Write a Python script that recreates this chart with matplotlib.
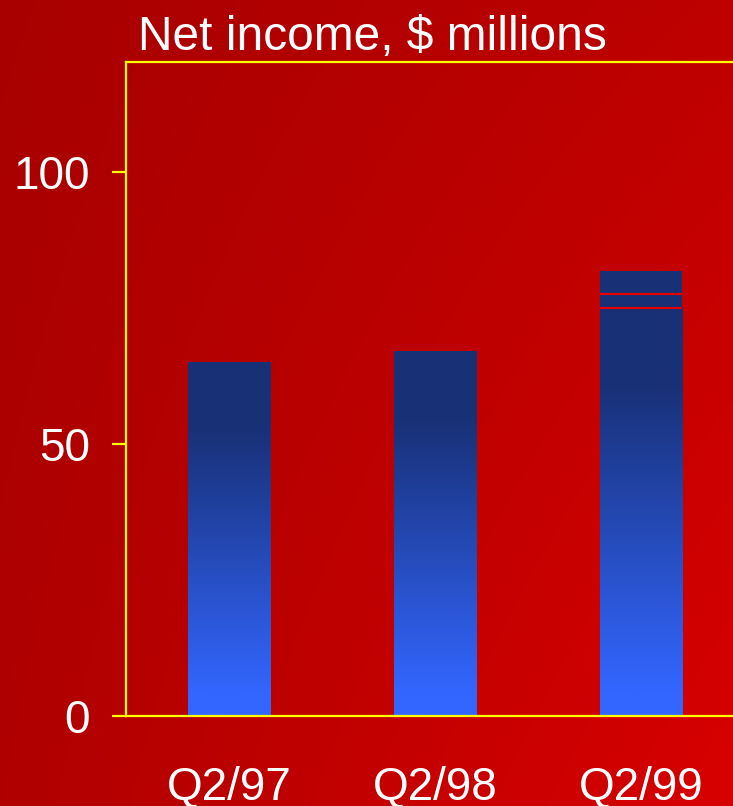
import numpy as np
import matplotlib
matplotlib.use("Agg")
import matplotlib.pyplot as plt
from matplotlib.colors import LinearSegmentedColormap

# Data
categories = ["Q2/97", "Q2/98", "Q2/99"]
# stacked segments (bottom, middle, top); only Q2/99 has extra segments
seg_bottom = [65.0, 67.0, 75.0]
seg_middle = [0.0, 0.0, 2.6]
seg_top = [0.0, 0.0, 4.2]
yticks = [0, 50, 100]
title = "Net income, $ millions"

W, H, DPI = 7.33, 8.06, 100
fig = plt.figure(figsize=(W, H), dpi=DPI)
plt.rcParams['font.family'] = ['Liberation Sans', 'DejaVu Sans']

# background gradient
bg = fig.add_axes([0, 0, 1, 1], zorder=-10)
bg.set_axis_off()
nx, ny = 200, 220
xx, yy = np.meshgrid(np.linspace(0, 1, nx), np.linspace(0, 1, ny))  # yy: 0 top, 1 bottom
TL, TR, BL, BR = 168, 190, 176, 216
val = (TL * (1 - xx) * (1 - yy) + TR * xx * (1 - yy) + BL * (1 - xx) * yy + BR * xx * yy) / 255.0
img = np.zeros((ny, nx, 3))
img[..., 0] = val
bg.imshow(img, aspect='auto', extent=[0, 1, 1, 0], interpolation='bilinear')
bg.set_xlim(0, 1)
bg.set_ylim(1, 0)

ax = fig.add_axes([126 / 733, 1 - 716 / 806, 1 - 126 / 733, (716 - 62) / 806])
ax.patch.set_alpha(0)
x = np.arange(len(categories))
width = 0.4
ax.set_ylim(0, 120.2)

dark = np.array([0x18, 0x30, 0x75]) / 255
light = np.array([0x33, 0x66, 0xff]) / 255
cmap = LinearSegmentedColormap.from_list("barg", [(0, light), (0.06, light), (0.82, dark), (1.0, dark)])
grad = np.linspace(0, 1, 256).reshape(-1, 1)

bars = ax.bar(x, seg_bottom, width=width, color='none', edgecolor='none')
for b in bars:
    x0 = b.get_x()
    h = b.get_height()
    ax.imshow(grad, cmap=cmap, aspect='auto', origin='lower',
              extent=[x0, x0 + width, 0, h], zorder=2, interpolation='bilinear')

bottoms2 = np.array(seg_bottom)
for seg in (seg_middle, seg_top):
    for xi, b0, h in zip(x, bottoms2, seg):
        if h > 0:
            ax.bar(xi, h, width=width, bottom=b0, color=dark, edgecolor='none', zorder=3)
    bottoms2 = bottoms2 + np.array(seg)

# thin red separators between segments
bnd = np.array(seg_bottom)
for seg in (seg_middle, seg_top):
    for xi, b0, h in zip(x, bnd, seg):
        if h > 0:
            ax.plot([xi - width / 2, xi + width / 2], [b0, b0], color='#e00000', lw=1.6, zorder=4,
                    solid_capstyle='butt')
    bnd = bnd + np.array(seg)

ax.set_xlim(-0.5, (733 - 229) / 206)

yellow = '#ffff00'
for s in ['left', 'top', 'bottom']:
    ax.spines[s].set_color(yellow)
    ax.spines[s].set_linewidth(1.6)
    ax.spines[s].set_zorder(5)
ax.spines['right'].set_visible(False)

ax.set_yticks(yticks)
ax.set_yticklabels([str(v) for v in yticks])
ax.set_xticks(x)
ax.set_xticklabels(categories)
ax.tick_params(axis='y', colors=yellow, length=10, width=1.6, direction='out', pad=16,
               labelcolor='white', labelsize=33)
ax.tick_params(axis='x', length=0, pad=36, labelcolor='white', labelsize=33)

fig.text(138 / 733, 1 - 50 / 806, title, color='white', fontsize=34.5, ha='left', va='baseline')

fig.savefig("out.png", dpi=DPI)
